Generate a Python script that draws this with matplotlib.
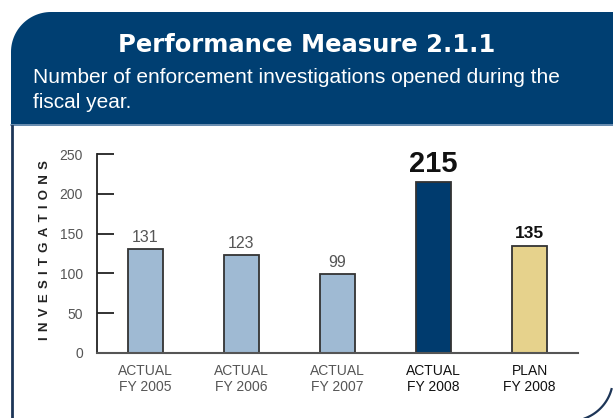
import numpy as np
import matplotlib
matplotlib.use("Agg")
import matplotlib.pyplot as plt
from matplotlib.patches import Polygon

categories = ["ACTUAL\nFY 2005", "ACTUAL\nFY 2006", "ACTUAL\nFY 2007", "ACTUAL\nFY 2008", "PLAN\nFY 2008"]
values = [131, 123, 99, 215, 135]
value_labels = ["131", "123", "99", "215", "135"]
yticks = [0, 50, 100, 150, 200, 250]
title = "Performance Measure 2.1.1"
subtitle = "Number of enforcement investigations opened during the\nfiscal year."
ylabel = "INVESITGATIONS"

bar_colors = ["#9fbad3", "#9fbad3", "#9fbad3", "#003b6e", "#e6d28c"]
label_colors = ["#555555", "#555555", "#555555", "#111111", "#111111"]
label_sizes = [11.5, 11.5, 11.5, 21, 12.5]
label_weights = ["normal", "normal", "normal", "bold", "bold"]
xlabel_colors = ["#555555", "#555555", "#555555", "#111111", "#111111"]
navy = "#003f72"

W, H = 613, 418
fig = plt.figure(figsize=(W / 100, H / 100), dpi=100)
fig.patch.set_facecolor("white")

# background decoration axes in pixel coordinates
bg = fig.add_axes([0, 0, 1, 1], zorder=0)
bg.set_xlim(0, W)
bg.set_ylim(H, 0)
bg.axis("off")

r = 40
left, top, bottom = 11, 12, 126
t = np.linspace(np.pi, 1.5 * np.pi, 30)
arc_x = left + r + r * np.cos(t)
arc_y = top + r + r * np.sin(t)
pts = [(left, bottom)] + list(zip(arc_x, arc_y)) + [(W, top), (W, bottom)]
bg.add_patch(Polygon(pts, closed=True, facecolor=navy, edgecolor="none"))
bg.plot([left, W], [bottom - 1, bottom - 1], color="#7d9cbc", lw=1.2)
bg.plot([left + 1, left + 1], [bottom, H], color="#1d3557", lw=2)

# bottom-right rounded corner arc
t2 = np.linspace(np.deg2rad(15), np.deg2rad(70), 40)
cx, cy, rr = 570, 378, 43
bg.plot(cx + rr * np.cos(t2), cy + rr * np.sin(t2), color="#1d3557", lw=1.6)

bg.text(307, 45, title, color="white", fontsize=17.5, fontweight="bold",
        ha="center", va="center", family="DejaVu Sans")
bg.text(33, 90, subtitle, color="white", fontsize=15, ha="left", va="center",
        family="Liberation Sans", linespacing=1.4)

# y label with letter spacing
bg.text(45, 250, "\u2009\u2009".join(ylabel), rotation=90, fontsize=9.5, fontweight="bold",
        color="#222222", ha="center", va="center", family="Liberation Sans")

# main chart
ax = fig.add_axes([97 / W, 1 - 353 / H, (578 - 97) / W, (353 - 154) / H], zorder=1)
ax.patch.set_alpha(0)
x = np.arange(len(values))
ax.bar(x, values, width=0.365, color=bar_colors, edgecolor="#333333", linewidth=1.3, zorder=2)
ax.set_xlim(-0.505, 4.505)
ax.set_ylim(0, 250)
ax.set_yticks(yticks)
ax.set_yticklabels([str(v) for v in yticks], fontsize=10, color="#555555", family="Liberation Sans")
ax.tick_params(axis="y", direction="in", length=12, width=1.3, color="#222222", pad=10)
ax.set_xticks(x)
ax.set_xticklabels(categories, fontsize=10, family="Liberation Sans", linespacing=1.15)
for tl, c in zip(ax.get_xticklabels(), xlabel_colors):
    tl.set_color(c)
ax.tick_params(axis="x", length=0, pad=8)
for s in ["top", "right"]:
    ax.spines[s].set_visible(False)
ax.spines["left"].set_color("#222222")
ax.spines["left"].set_linewidth(1.3)
ax.spines["bottom"].set_color("#555555")
ax.spines["bottom"].set_linewidth(1.5)

for xi, v, lab, c, s, w in zip(x, values, value_labels, label_colors, label_sizes, label_weights):
    ax.annotate(lab, (xi, v), xytext=(0, 3), textcoords="offset points", ha="center", va="bottom",
                fontsize=s, fontweight=w, color=c, family="Liberation Sans")

fig.savefig("out.png", dpi=100)
